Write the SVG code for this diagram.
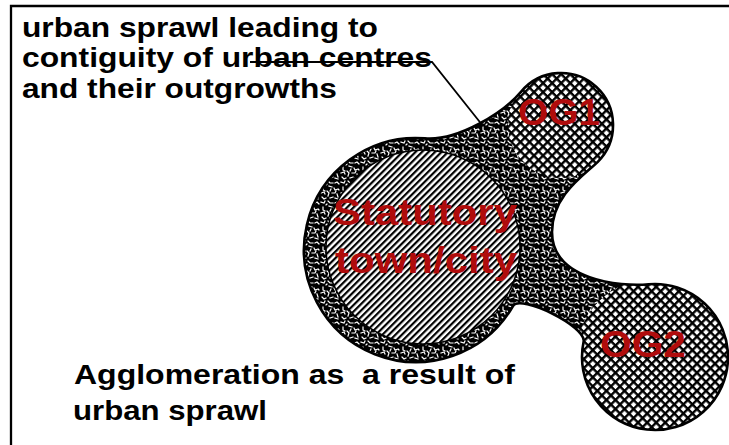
<svg xmlns="http://www.w3.org/2000/svg" width="729" height="445" viewBox="0 0 729 445">
<style>
.lbl{font-family:"Liberation Sans",Arial,sans-serif;font-weight:bold;fill:#000}
.red{font-family:"Liberation Sans",Arial,sans-serif;font-weight:bold;fill:#b00c0c}
.edge{fill:none;stroke:#000}
</style>
<defs>
<pattern id="stipple" patternUnits="userSpaceOnUse" width="20" height="20">
<rect width="20" height="20" fill="#000"/>
<path d="M1,2 l3,1 l1,-2 M8,1 l2,2 l3,0 M15,3 l2,-1 l2,2 M3,7 l0,3 l2,1 M9,6 l3,1 M14,8 l1,2 l3,-1 M1,13 l3,-1 l1,2 M7,11 l2,2 l-1,3 M12,13 l3,0 l1,-2 M17,14 l1,3 M2,17 l2,2 l2,-1 M10,18 l3,-1 M15,18 l3,1 M6,5 l1,-1 M18,9 l1,1 M11,9 l-1,2" fill="none" stroke="#fff" stroke-width="1.2" stroke-linecap="square"/>
</pattern>
<pattern id="hatch" patternUnits="userSpaceOnUse" width="4.6" height="4.6" patternTransform="rotate(45)">
<rect width="4.6" height="4.6" fill="#fff"/>
<rect width="2.2" height="4.6" fill="#000"/>
</pattern>
<pattern id="cross" patternUnits="userSpaceOnUse" width="6.4" height="6.4" patternTransform="rotate(45)">
<rect width="6.4" height="6.4" fill="#fff"/>
<rect width="6.4" height="2.4" fill="#000"/>
<rect width="2.4" height="6.4" fill="#000"/>
</pattern>
<path id="blobShape" d="M 425 138.4 C 458 141 503.2 113 521.2 91.6 A 52 52 0 1 1 597.8 161.8 C 585 174.5 552 195 552 232 C 552 280 620 287 648.6 284.3 A 73 73 0 1 1 583.6 341.8 C 586.9 326.2 520 293.9 513 306 A 112 112 0 1 1 425 138.4 Z"/>
<clipPath id="blobClip"><use href="#blobShape"/></clipPath>
</defs>
<rect width="729" height="445" fill="#fff"/>
<path class="edge" d="M11 445 V6 H729" stroke-width="2.3"/>

<g id="agglomeration">
<use href="#blobShape" fill="url(#stipple)"/>
<g clip-path="url(#blobClip)">
<g id="og1"><circle cx="561" cy="125" r="53" fill="url(#cross)"/></g>
<g id="og2"><circle cx="653" cy="356" r="77" fill="url(#cross)"/></g>
</g>
<g id="statutory-town">
<circle cx="423" cy="247" r="97" fill="url(#hatch)" stroke="#000" stroke-width="1.5"/>
</g>
<use href="#blobShape" class="edge" stroke-width="2.6"/>
</g>

<g id="labels">
<text class="red" x="333" y="225" font-size="37" textLength="184" lengthAdjust="spacingAndGlyphs">Statutory</text>
<text class="red" x="335" y="273" font-size="37" textLength="182" lengthAdjust="spacingAndGlyphs">town/city</text>
<text class="red" x="518" y="125" font-size="37" textLength="82" lengthAdjust="spacingAndGlyphs">OG1</text>
<text class="red" x="600" y="357" font-size="37" textLength="86" lengthAdjust="spacingAndGlyphs">OG2</text>
</g>

<g id="note-sprawl">
<text class="lbl" x="22" y="37" font-size="28" textLength="356" lengthAdjust="spacingAndGlyphs">urban sprawl leading to</text>
<text class="lbl" x="22" y="67" font-size="28" textLength="410" lengthAdjust="spacingAndGlyphs">contiguity of urban centres</text>
<text class="lbl" x="22" y="98" font-size="28" textLength="315" lengthAdjust="spacingAndGlyphs">and their outgrowths</text>
</g>

<g id="note-agglomeration">
<text class="lbl" x="74" y="384" font-size="28" textLength="441" lengthAdjust="spacingAndGlyphs" xml:space="preserve">Agglomeration as  a result of</text>
<text class="lbl" x="73" y="420" font-size="28" textLength="194" lengthAdjust="spacingAndGlyphs">urban sprawl</text>
</g>

<g id="connectors">
<polyline class="edge" points="250,62 432,62 483,126" stroke-width="1.8"/>
</g>
</svg>
